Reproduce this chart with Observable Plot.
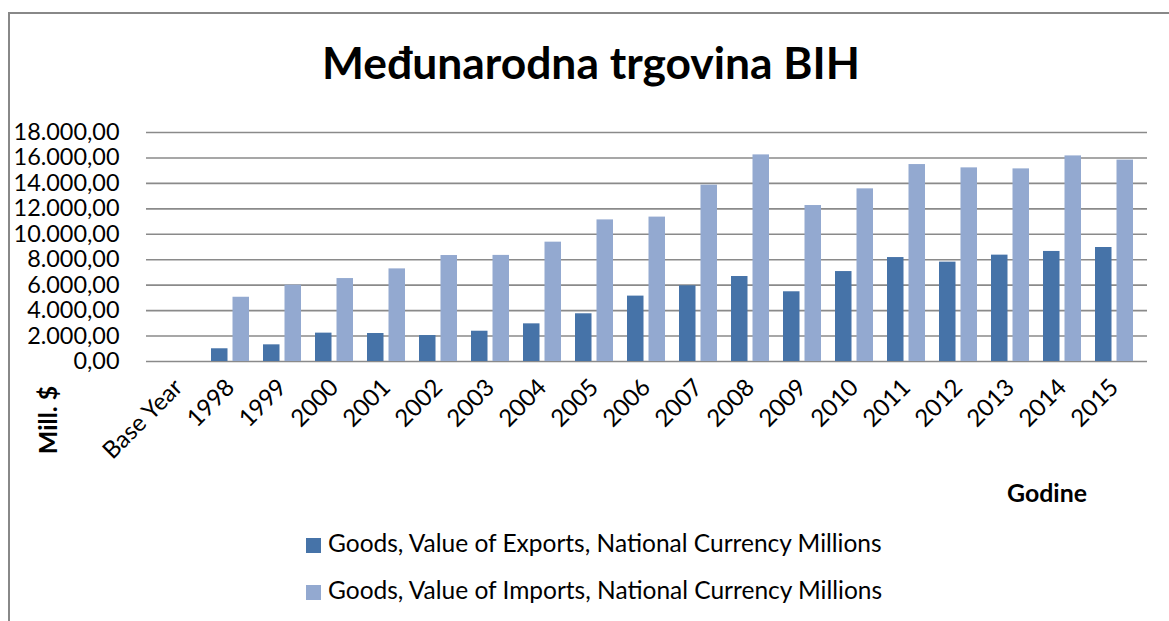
<!DOCTYPE html>
<html>
<head>
<meta charset="utf-8">
<script src="https://cdn.jsdelivr.net/npm/d3@7"></script>
<script src="https://cdn.jsdelivr.net/npm/@observablehq/plot@0.6"></script>
<style>
  html, body { margin: 0; padding: 0; background: #fff; overflow: hidden; }
  body { width: 1169px; height: 621px; position: relative; font-family: Lato, sans-serif; color: #000; }
  #frame { position: absolute; left: 8px; top: 12px; width: 1300px; height: 800px;
           border-top: 2px solid #888; border-left: 2px solid #888; box-sizing: border-box; }
  #chart { position: absolute; left: 0; top: 0; }
  .abs { position: absolute; white-space: nowrap; }
  #title { font-weight: 700; text-align: center; left: 0; width: 1182px; }
  .bold { font-weight: 700; }
  .sw { position: absolute; width: 15px; height: 15px; }
</style>
</head>
<body>
<div id="frame"></div>
<div id="chart"></div>
<div id="title" class="abs">Međunarodna trgovina BIH</div>
<div id="ylab" class="abs bold">Mill. $</div>
<div id="xlab" class="abs bold">Godine</div>
<div id="legend"></div>
<script>
// ---- data ----
const categories = ["Base Year", "1998", "1999", "2000", "2001", "2002", "2003", "2004", "2005",
  "2006", "2007", "2008", "2009", "2010", "2011", "2012", "2013", "2014", "2015"];
const exportsValues = [null, 1000, 1310, 2230, 2200, 2040, 2380, 2960, 3750,
  5140, 5950, 6680, 5480, 7070, 8170, 7810, 8360, 8650, 8960];
const importsValues = [null, 5050, 6000, 6520, 7280, 8330, 8340, 9380, 11130,
  11350, 13860, 16240, 12260, 13570, 15480, 15220, 15140, 16160, 15830];
const seriesNames = ["Goods, Value of Exports, National Currency Millions",
  "Goods, Value of Imports, National Currency Millions"];
const seriesColors = ["#4673A8", "#93A9D0"];
const yTicks = [0, 2000, 4000, 6000, 8000, 10000, 12000, 14000, 16000, 18000];
const titleText = "Međunarodna trgovina BIH";
const yLabel = "Mill. $";
const xLabel = "Godine";

// ---- font fitting (substitute font sized to the reference text widths) ----
const ctx = document.createElement("canvas").getContext("2d");
function fit(text, weight, target) {
  ctx.font = `${weight} 100px Lato`;
  return 100 * target / ctx.measureText(text).width;
}
const ASC = 0.887; // baseline offset for line-height = 1

// ---- chart ----
const fmt = d3.formatLocale({decimal: ",", thousands: ".", grouping: [3], currency: ["", ""]}).format(",.2f");
const rows = categories.map((c, i) => ({category: c, exp: exportsValues[i], imp: importsValues[i]}));
const tickFont = fit("18.000,00", 400, 106);
const xTickFont = fit("Base Year", 400, 102);

const chart = Plot.plot({
  width: 1169,
  height: 480,
  marginLeft: 146,
  marginRight: 22,
  marginTop: 132,
  marginBottom: 119,
  style: {fontFamily: "Lato, sans-serif", fontSize: tickFont + "px", color: "#000", background: "transparent", overflow: "visible"},
  x: {domain: categories, paddingInner: 0.26, paddingOuter: 0.13, tickRotate: -45, tickSize: 0, tickPadding: 22, label: null},
  y: {domain: [0, 18000], ticks: yTicks, tickFormat: fmt, tickSize: 0, tickPadding: 27, label: null},
  marks: [
    Plot.ruleY(yTicks, {stroke: "#8a8a8a", strokeWidth: 1.6}),
    Plot.barY(rows.filter(d => d.exp != null), {x: "category", y: "exp", fill: seriesColors[0], insetRight: 21.5}),
    Plot.barY(rows.filter(d => d.imp != null), {x: "category", y: "imp", fill: seriesColors[1], insetLeft: 21.5})
  ]
});
d3.select(chart).selectAll('g[aria-label="x-axis tick label"]').attr("font-size", xTickFont);
document.getElementById("chart").appendChild(chart);

// ---- title ----
const tF = fit(titleText, 700, 538);
const title = document.getElementById("title");
title.textContent = titleText;
Object.assign(title.style, {fontSize: tF + "px", lineHeight: tF + "px", top: (79 - ASC * tF) + "px"});

// ---- axis titles ----
const bF = fit(xLabel, 700, 80);
const xl = document.getElementById("xlab");
xl.textContent = xLabel;
Object.assign(xl.style, {fontSize: bF + "px", lineHeight: bF + "px", left: "1007px", top: (502 - ASC * bF) + "px"});

const yl = document.getElementById("ylab");
yl.textContent = yLabel;
Object.assign(yl.style, {fontSize: bF + "px", lineHeight: bF + "px", left: "47px", top: "420px",
  transform: "translate(-50%, -50%) rotate(-90deg)"});

// ---- legend ----
const lF = fit(seriesNames[0], 400, 556);
const legend = document.getElementById("legend");
seriesNames.forEach((name, i) => {
  const sw = document.createElement("div");
  sw.className = "sw";
  Object.assign(sw.style, {left: "306px", top: (538 + 47 * i) + "px", background: seriesColors[i]});
  legend.appendChild(sw);
  const t = document.createElement("div");
  t.className = "abs";
  t.textContent = name;
  Object.assign(t.style, {left: "328px", fontSize: lF + "px", lineHeight: lF + "px", top: (553 + 47 * i - ASC * lF) + "px"});
  legend.appendChild(t);
});
</script>
</body>
</html>
